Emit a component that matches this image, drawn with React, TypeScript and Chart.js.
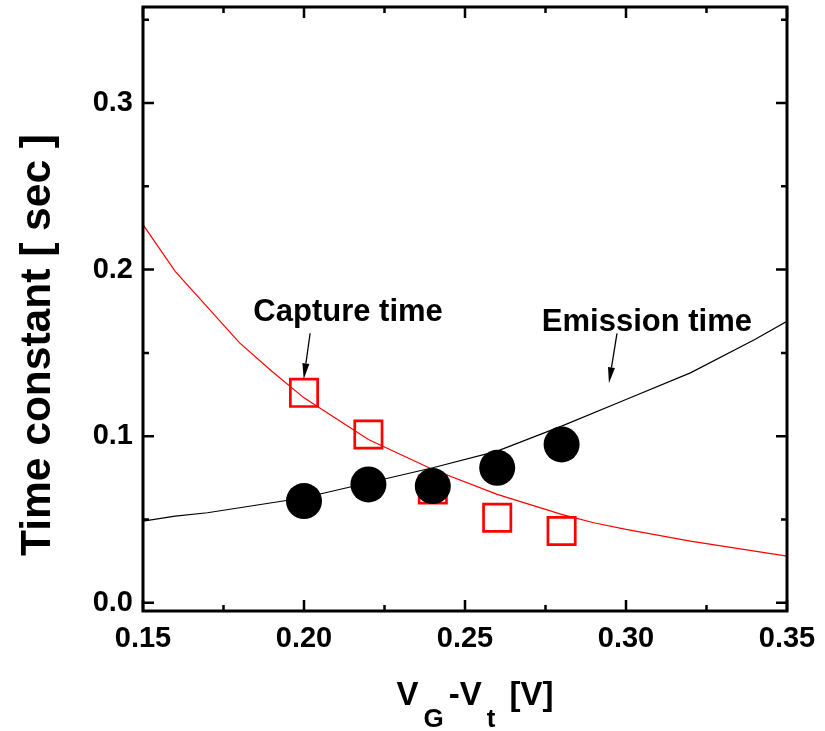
import React, { useEffect, useRef } from 'react';
import { Chart, registerables } from 'chart.js';
Chart.register(...registerables);

const FONT = "'Liberation Sans', Arial, sans-serif";

const captureX = [0.2, 0.22, 0.24, 0.26, 0.28];
const captureY = [0.126, 0.101, 0.068, 0.051, 0.043];
const emissionX = [0.2, 0.22, 0.24, 0.26, 0.28];
const emissionY = [0.061, 0.071, 0.07, 0.081, 0.095];

const captureFitX = [0.15, 0.16, 0.18, 0.19, 0.2, 0.22, 0.24, 0.26, 0.28, 0.29, 0.3, 0.32, 0.35];
const captureFitY = [0.227, 0.199, 0.156, 0.139, 0.123, 0.098, 0.08, 0.065, 0.053, 0.048, 0.044, 0.037, 0.028];
const emissionFitX = [0.15, 0.16, 0.17, 0.18, 0.19, 0.2, 0.22, 0.24, 0.26, 0.28, 0.3, 0.32, 0.34, 0.35];
const emissionFitY = [0.049, 0.052, 0.054, 0.057, 0.06, 0.063, 0.072, 0.081, 0.091, 0.106, 0.122, 0.138, 0.158, 0.169];

const xMajor = [0.15, 0.2, 0.25, 0.3, 0.35];
const xMinor = [0.175, 0.225, 0.275, 0.325];
const yMajor = [0, 0.1, 0.2, 0.3];
const yMinor = [0.05, 0.15, 0.25, 0.35];

const labels = ['Capture time', 'Emission time'];
const labelX = [0.2137, 0.3065];
const labelY = [0.169, 0.163];
const arrowFromX = [0.2019, 0.2972];
const arrowFromY = [0.1618, 0.1617];
const arrowToX = [0.1999, 0.2947];
const arrowToY = [0.1341, 0.1317];

const yTitle = 'Time constant [ sec ]';

const zip = (xs: number[], ys: number[]) => xs.map((x, i) => ({ x, y: ys[i] }));

const decorPlugin = {
  id: 'decor',
  afterDraw(chart: any) {
    const { ctx, chartArea: a, scales } = chart;
    const xs = scales.x, ys = scales.y;
    ctx.save();
    ctx.strokeStyle = '#000';
    ctx.lineWidth = 3;
    ctx.strokeRect(a.left, a.top, a.right - a.left, a.bottom - a.top);
    ctx.lineWidth = 2.5;
    const tickX = (v: number, len: number) => {
      const p = xs.getPixelForValue(v);
      ctx.beginPath();
      ctx.moveTo(p, a.bottom); ctx.lineTo(p, a.bottom - len);
      ctx.moveTo(p, a.top); ctx.lineTo(p, a.top + len);
      ctx.stroke();
    };
    const tickY = (v: number, len: number) => {
      const p = ys.getPixelForValue(v);
      ctx.beginPath();
      ctx.moveTo(a.left, p); ctx.lineTo(a.left + len, p);
      ctx.moveTo(a.right, p); ctx.lineTo(a.right - len, p);
      ctx.stroke();
    };
    xMajor.forEach(v => tickX(v, 11));
    xMinor.forEach(v => tickX(v, 6));
    yMajor.forEach(v => tickY(v, 11));
    yMinor.forEach(v => tickY(v, 6));

    // annotations
    ctx.fillStyle = '#000';
    ctx.font = `bold 31px ${FONT}`;
    ctx.textAlign = 'center';
    ctx.textBaseline = 'alphabetic';
    labels.forEach((t, i) => {
      ctx.fillText(t, xs.getPixelForValue(labelX[i]), ys.getPixelForValue(labelY[i]));
      const x1 = xs.getPixelForValue(arrowFromX[i]);
      const y1 = ys.getPixelForValue(arrowFromY[i]);
      const x2 = xs.getPixelForValue(arrowToX[i]);
      const y2 = ys.getPixelForValue(arrowToY[i]);
      const ang = Math.atan2(y2 - y1, x2 - x1);
      const hl = 16, hw = 3.5;
      const bx = x2 - hl * Math.cos(ang), by = y2 - hl * Math.sin(ang);
      ctx.lineWidth = 1.3;
      ctx.beginPath();
      ctx.moveTo(x1, y1); ctx.lineTo(bx, by);
      ctx.stroke();
      ctx.beginPath();
      ctx.moveTo(x2, y2);
      ctx.lineTo(bx + hw * Math.sin(ang), by - hw * Math.cos(ang));
      ctx.lineTo(bx - hw * Math.sin(ang), by + hw * Math.cos(ang));
      ctx.closePath();
      ctx.fill();
    });

    // y title
    ctx.save();
    ctx.translate(50, 345);
    ctx.rotate(-Math.PI / 2);
    ctx.font = `bold 42.5px ${FONT}`;
    ctx.textAlign = 'center';
    ctx.textBaseline = 'alphabetic';
    ctx.fillText(yTitle, 0, 0);
    ctx.restore();

    // x title with subscripts
    const parts: [string, boolean][] = [['V', false], ['G', true], ['-V', false], ['t', true], [' [V]', false]];
    const mainF = `bold 33px ${FONT}`;
    const subF = `bold 26px ${FONT}`;
    const gap = 5;
    let total = 0;
    parts.forEach(([s, sub]) => { ctx.font = sub ? subF : mainF; total += ctx.measureText(s).width + gap; });
    total -= gap;
    let x = 475 - total / 2;
    const base = 705;
    ctx.textAlign = 'left';
    parts.forEach(([s, sub]) => {
      ctx.font = sub ? subF : mainF;
      ctx.fillText(s, x, sub ? base + 22 : base);
      x += ctx.measureText(s).width + gap;
    });
    ctx.restore();
  },
};

export default function App() {
  const ref = useRef<HTMLCanvasElement>(null);
  useEffect(() => {
    if (!ref.current) return;
    const chart = new Chart(ref.current, {
      type: 'scatter',
      data: {
        datasets: [
          {
            label: 'Emission',
            data: zip(emissionX, emissionY),
            pointStyle: 'circle',
            pointRadius: 18,
            pointBackgroundColor: '#000',
            pointBorderColor: '#000',
            pointBorderWidth: 0,
            showLine: false,
          },
          {
            label: 'Capture',
            data: zip(captureX, captureY),
            pointStyle: 'rect',
            pointRadius: 19.3,
            pointBackgroundColor: 'rgba(0,0,0,0)',
            pointBorderColor: '#ff0000',
            pointBorderWidth: 2.7,
            showLine: false,
          },
          {
            label: 'Emission fit',
            data: zip(emissionFitX, emissionFitY),
            showLine: true,
            borderColor: '#000',
            borderWidth: 1.2,
            pointRadius: 0,
            tension: 0,
          },
          {
            label: 'Capture fit',
            data: zip(captureFitX, captureFitY),
            showLine: true,
            borderColor: '#ff0000',
            borderWidth: 1.2,
            pointRadius: 0,
            tension: 0,
          },
        ],
      },
      options: {
        animation: false,
        responsive: false,
        events: [],
        layout: { autoPadding: false, padding: { left: 0, right: 38, top: 7, bottom: 0 } },
        plugins: { legend: { display: false }, tooltip: { enabled: false } },
        scales: {
          x: {
            type: 'linear',
            min: 0.15,
            max: 0.35,
            afterBuildTicks: (s: any) => { s.ticks = xMajor.map(v => ({ value: v })); },
            afterFit: (s: any) => { s.height = 120; s.paddingLeft = 0; s.paddingRight = 0; },
            grid: { display: false, drawTicks: false },
            border: { display: false },
            ticks: {
              color: '#000',
              padding: 11,
              maxRotation: 0,
              autoSkip: false,
              font: { family: FONT, size: 29, weight: 'bold' },
              callback: (v: any) => Number(v).toFixed(2),
            },
          },
          y: {
            type: 'linear',
            min: -0.005,
            max: 0.3577,
            afterBuildTicks: (s: any) => { s.ticks = yMajor.map(v => ({ value: v })); },
            afterFit: (s: any) => { s.width = 143; s.paddingTop = 0; s.paddingBottom = 0; },
            grid: { display: false, drawTicks: false },
            border: { display: false },
            ticks: {
              color: '#000',
              padding: 10,
              autoSkip: false,
              font: { family: FONT, size: 29, weight: 'bold' },
              callback: (v: any) => Number(v).toFixed(1),
            },
          },
        },
      },
      plugins: [decorPlugin],
    } as any);
    return () => chart.destroy();
  }, []);
  return (
    <div style={{ position: 'fixed', left: 0, top: 0, width: 825, height: 731, background: '#fff' }}>
      <canvas ref={ref} width={825} height={731} style={{ width: 825, height: 731 }} />
    </div>
  );
}
